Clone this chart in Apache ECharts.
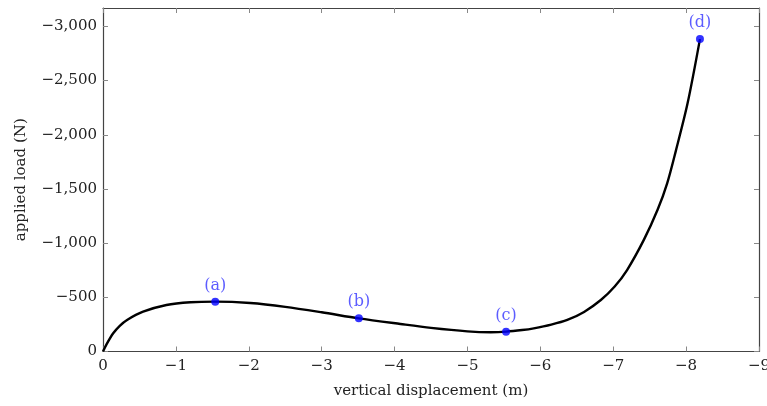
<!DOCTYPE html>
<html>
<head>
<meta charset="utf-8">
<script src="https://cdn.jsdelivr.net/npm/echarts@6/dist/echarts.min.js"></script>
<style>html,body{margin:0;padding:0;background:#fff}#c{width:767px;height:406px}</style>
</head>
<body>
<div id="c"></div>
<script>
// curve data (vertical displacement in m, applied load in N)
const dispX = [0, -0.05, -0.14, -0.23, -0.33, -0.55, -0.87, -1.2, -1.54, -2.02, -2.5, -3.0, -3.51, -4.08, -4.5, -5.0, -5.32, -5.53, -5.75, -5.91, -6.15, -6.37, -6.6, -6.83, -7.02, -7.19, -7.42, -7.61, -7.74, -7.86, -8.02, -8.19];
const loadY = [0, -68, -168, -237, -291, -367, -429, -454, -460, -447, -412, -362, -306, -254, -218, -186, -178, -183, -198, -214, -248, -291, -365, -475, -600, -752, -1030, -1310, -1552, -1854, -2290, -2883];
// marked points
const markNames = ['(a)', '(b)', '(c)', '(d)'];
const markX = [-1.54, -3.51, -5.53, -8.19];
const markY = [-460, -306, -183, -2883];
// axis ticks
const xTicks = [0, -1, -2, -3, -4, -5, -6, -7, -8, -9];
const yTicks = [0, -500, -1000, -1500, -2000, -2500, -3000];

const fmt = v => v === 0 ? '0' : '\u2212' + Math.abs(v).toLocaleString('en-US');
const FONT = 'DejaVu Serif';
const FS = 15;
const axisLineStyle = {color: '#444', width: 1.2};
const tickStyle = {color: '#888', width: 1};

const chart = echarts.init(document.getElementById('c'), null, {renderer: 'canvas'});
chart.setOption({
  animation: false,
  textStyle: {fontFamily: FONT},
  grid: {left: 103, right: 8, top: 8, bottom: 54.5, containLabel: false, outerBoundsMode: 'none'},
  xAxis: [{
    type: 'value', min: -9, max: 0, inverse: true, interval: 1,
    position: 'bottom',
    name: 'vertical displacement (m)', nameLocation: 'middle', nameGap: 32,
    nameTextStyle: {fontFamily: FONT, fontSize: FS, color: '#222'},
    axisLine: {show: true, onZero: false, lineStyle: axisLineStyle},
    axisTick: {show: true, inside: true, length: 5, lineStyle: tickStyle, customValues: xTicks},
    axisLabel: {show: true, margin: 7, fontFamily: FONT, fontSize: FS, color: '#222', formatter: fmt, customValues: xTicks},
    splitLine: {show: false}
  }, {
    type: 'value', min: -9, max: 0, inverse: true, interval: 1,
    position: 'top',
    axisLine: {show: true, onZero: false, lineStyle: axisLineStyle},
    axisTick: {show: true, inside: true, length: 5, lineStyle: tickStyle, customValues: xTicks},
    axisLabel: {show: false},
    splitLine: {show: false}
  }],
  yAxis: [{
    type: 'value', min: -3170, max: 0, inverse: true,
    position: 'left',
    name: 'applied load (N)', nameLocation: 'middle', nameGap: 74, nameRotate: 90,
    nameTextStyle: {fontFamily: FONT, fontSize: FS, color: '#222'},
    axisLine: {show: true, onZero: false, lineStyle: axisLineStyle},
    axisTick: {show: true, inside: true, length: 5, lineStyle: tickStyle, customValues: yTicks},
    axisLabel: {show: true, margin: 6, fontFamily: FONT, fontSize: FS, color: '#222', formatter: fmt, customValues: yTicks},
    splitLine: {show: false}
  }, {
    type: 'value', min: -3170, max: 0, inverse: true,
    position: 'right',
    axisLine: {show: true, onZero: false, lineStyle: axisLineStyle},
    axisTick: {show: true, inside: true, length: 5, lineStyle: tickStyle, customValues: yTicks},
    axisLabel: {show: false},
    splitLine: {show: false}
  }],
  series: [{
    type: 'line',
    xAxisIndex: 0, yAxisIndex: 0,
    data: dispX.map((x, i) => [x, loadY[i]]),
    smooth: 0.3,
    showSymbol: false,
    lineStyle: {color: '#000', width: 2.4},
    z: 2
  }, {
    type: 'scatter',
    xAxisIndex: 0, yAxisIndex: 0,
    data: markX.map((x, i) => ({value: [x, markY[i]], name: markNames[i]})),
    symbolSize: 8,
    itemStyle: {color: '#0000ff'},
    label: {show: true, position: 'top', distance: 4, formatter: p => p.name,
      fontFamily: FONT, fontSize: 16, color: '#3333ff'},
    z: 3
  }]
});
</script>
</body>
</html>
